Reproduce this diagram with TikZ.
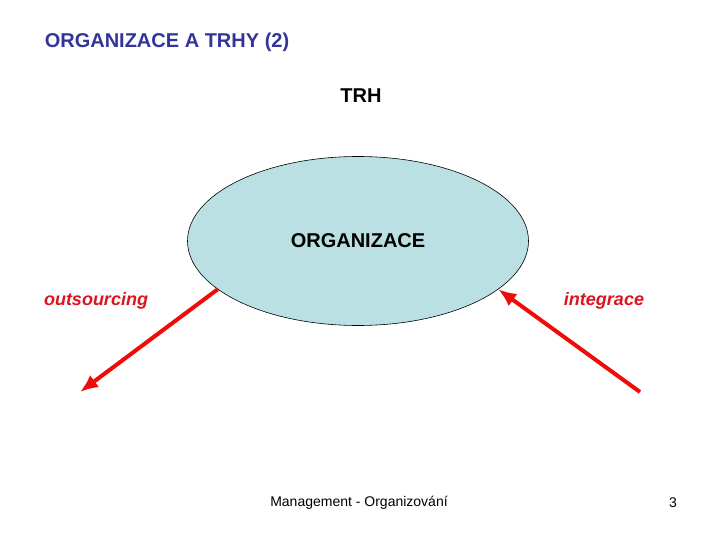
\documentclass[tikz,border=0pt]{standalone}
\usepackage{fontspec}
\setmainfont{Liberation Sans}
\usepackage{tikz}
\usetikzlibrary{positioning,calc,arrows.meta,shapes.geometric}

\definecolor{titleblue}{RGB}{51,51,153}
\definecolor{orgfill}{RGB}{187,224,227}
\definecolor{arrowred}{RGB}{240,10,10}
\definecolor{labelred}{RGB}{220,20,30}

\begin{document}
\begin{tikzpicture}[
    x=1pt, y=-1pt,
    >={Latex[length=18pt,width=15pt]},
    redarrow/.style={->, draw=arrowred, line width=4pt},
    bigtext/.style={font=\fontsize{20}{24}\selectfont\bfseries, inner sep=0pt},
    redlabel/.style={font=\fontsize{18}{22}\selectfont\bfseries\itshape, text=labelred, inner sep=0pt},
    foottext/.style={font=\fontsize{14}{17}\selectfont, inner sep=0pt},
    orgellipse/.style={draw, ellipse, fill=orgfill, line width=0.6pt, minimum width=341pt, minimum height=169pt, inner sep=0pt}
]

% okraje obrazku
\useasboundingbox (0,0) rectangle (720,540);

% nadpis
\node[bigtext, text=titleblue] (title) at (167,42) {ORGANIZACE A TRHY (2)};
\node[bigtext] (trh) at (361,96) {TRH};

% organizace
\node[orgellipse, font=\fontsize{20}{24}\selectfont\bfseries] (org) at (358,241) {ORGANIZACE};

% popisky sipek
\node[redlabel] (outs) at (96,301) {outsourcing};
\node[redlabel] (integ) at (604,301) {integrace};

% sipky
\coordinate (out_end) at (80,392);
\coordinate (int_start) at (640,392);
\draw[redarrow] (org.199) -- (out_end);
\draw[redarrow] (int_start) -- (org.341);

% zapati
\node[foottext] (foot) at (359,503) {Management - Organizování};
\node[foottext] (pagenum) at (673,503) {3};

\end{tikzpicture}
\end{document}
